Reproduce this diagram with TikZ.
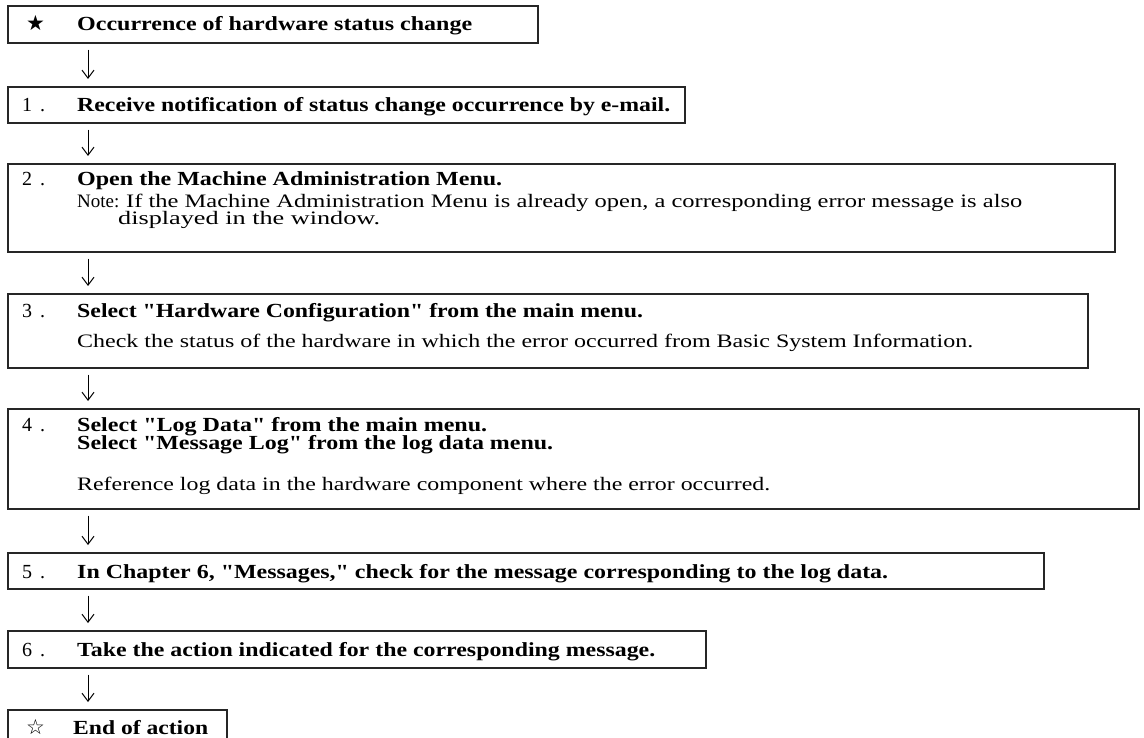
\documentclass[tikz,border=0pt]{standalone}
\usepackage{fontspec}
\setmainfont{Liberation Serif}[Ligatures=TeXOff]
\newfontfamily\symfont{DejaVu Sans}
\usepackage{graphicx}
\usetikzlibrary{arrows.meta,calc}
\newcommand{\fitw}[2]{\resizebox{#1pt}{\height}{#2}}
\begin{document}
\begin{tikzpicture}[x=1pt,y=-1pt,
  stepbox/.style={draw=black!85,line width=1.6pt,inner sep=0pt,anchor=north west},
  hdtext/.style={anchor=base west,inner sep=0pt,font=\fontsize{20}{24}\selectfont\bfseries},
  bdtext/.style={anchor=base west,inner sep=0pt,font=\fontsize{19}{24}\selectfont},
  numtext/.style={anchor=base west,inner sep=0pt,font=\fontsize{20}{24}\selectfont},
  symtext/.style={anchor=base west,inner sep=0pt,font=\symfont\fontsize{21}{24}\selectfont},
  flowarrow/.style={-{Straight Barb[length=8pt,width=12pt]},line width=1pt,black}]
\useasboundingbox (0,0) rectangle (1144,738);
\clip (0,0) rectangle (1144,738);
% boxes
\node[stepbox,minimum width=530pt,minimum height=37pt] (b0) at (7,5) {};
\node[stepbox,minimum width=677pt,minimum height=36pt] (b1) at (7,86) {};
\node[stepbox,minimum width=1107pt,minimum height=88pt] (b2) at (7,163) {};
\node[stepbox,minimum width=1080pt,minimum height=74pt] (b3) at (7,293) {};
\node[stepbox,minimum width=1131pt,minimum height=100pt] (b4) at (7,408) {};
\node[stepbox,minimum width=1036pt,minimum height=36pt] (b5) at (7,552) {};
\node[stepbox,minimum width=698pt,minimum height=37pt] (b6) at (7,630) {};
\node[stepbox,minimum width=219pt,minimum height=40pt] (b7) at (7,709) {};
% texts
\node[symtext] (s0) at (26,31) {★};
\node[hdtext] (t0) at (77,31) {\fitw{395}{Occurrence of hardware status change}};
\node[numtext] (n1) at (22,112) {1\hspace{8pt}.};
\node[hdtext] (t1) at (77,112) {\fitw{593}{Receive notification of status change occurrence by e-mail.}};
\node[numtext] (n2) at (22,186) {2\hspace{8pt}.};
\node[hdtext] (t2) at (77,186) {\fitw{425}{Open the Machine Administration Menu.}};
\node[bdtext] (t2n) at (77,208) {Note:};
\node[bdtext] (t2a) at (126,208) {\fitw{896}{If the Machine Administration Menu is already open, a corresponding error message is also}};
\node[bdtext] (t2b) at (118,225) {\fitw{262}{displayed in the window.}};
\node[numtext] (n3) at (22,317) {3\hspace{8pt}.};
\node[hdtext] (t3) at (77,317) {\fitw{566}{Select "Hardware Configuration" from the main menu.}};
\node[bdtext] (t3b) at (77,348) {\fitw{896}{Check the status of the hardware in which the error occurred from Basic System Information.}};
\node[numtext] (n4) at (22,431) {4\hspace{8pt}.};
\node[hdtext] (t4) at (77,431) {\fitw{410}{Select "Log Data" from the main menu.}};
\node[hdtext] (t4a) at (77,449) {\fitw{476}{Select "Message Log" from the log data menu.}};
\node[bdtext] (t4b) at (77,490) {\fitw{693}{Reference log data in the hardware component where the error occurred.}};
\node[numtext] (n5) at (22,578) {5\hspace{8pt}.};
\node[hdtext] (t5) at (77,578) {\fitw{811}{In Chapter 6, "Messages," check for the message corresponding to the log data.}};
\node[numtext] (n6) at (22,656) {6\hspace{8pt}.};
\node[hdtext] (t6) at (77,656) {\fitw{578}{Take the action indicated for the corresponding message.}};
\node[symtext] (s7) at (26,734) {☆};
\node[hdtext] (t7) at (73,734) {\fitw{135}{End of action}};
% arrows
\draw[flowarrow] ([xshift=81pt,yshift=-6pt]b0.south west) -- ([xshift=81pt,yshift=7pt]b1.north west);
\draw[flowarrow] ([xshift=81pt,yshift=-6pt]b1.south west) -- ([xshift=81pt,yshift=7pt]b2.north west);
\draw[flowarrow] ([xshift=81pt,yshift=-6pt]b2.south west) -- ([xshift=81pt,yshift=7pt]b3.north west);
\draw[flowarrow] ([xshift=81pt,yshift=-6pt]b3.south west) -- ([xshift=81pt,yshift=7pt]b4.north west);
\draw[flowarrow] ([xshift=81pt,yshift=-6pt]b4.south west) -- ([xshift=81pt,yshift=7pt]b5.north west);
\draw[flowarrow] ([xshift=81pt,yshift=-6pt]b5.south west) -- ([xshift=81pt,yshift=7pt]b6.north west);
\draw[flowarrow] ([xshift=81pt,yshift=-6pt]b6.south west) -- ([xshift=81pt,yshift=7pt]b7.north west);
\end{tikzpicture}
\end{document}
